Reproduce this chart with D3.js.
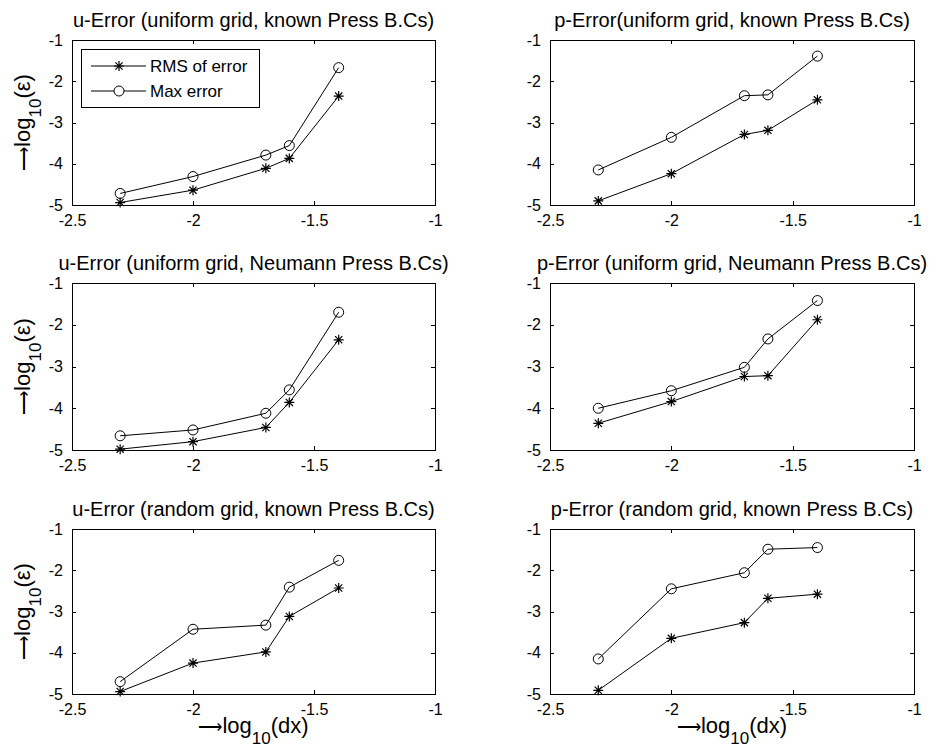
<!DOCTYPE html>
<html><head><meta charset="utf-8">
<script src="https://cdn.jsdelivr.net/npm/d3@7"></script>
<style>
body{margin:0;background:#fff}
svg{display:block}
text{font-family:"Liberation Sans", Arial, Helvetica, sans-serif;fill:#000}
</style>
</head><body>
<svg id="c" width="938" height="753"></svg>
<script>
// log10(dx) for dx = 1/200, 1/100, 1/50, 1/40, 1/25
const xValues = [-2.301, -2.0, -1.699, -1.602, -1.398];

const panelTitles = [
  "u-Error (uniform grid, known Press B.Cs)",
  "p-Error(uniform grid, known Press B.Cs)",
  "u-Error (uniform grid, Neumann Press B.Cs)",
  "p-Error (uniform grid, Neumann Press B.Cs)",
  "u-Error (random grid, known Press B.Cs)",
  "p-Error (random grid, known Press B.Cs)"
];

// RMS of error (log10)
const rmsUUniformKnown   = [-4.94, -4.64, -4.11, -3.87, -2.36];
const rmsPUniformKnown   = [-4.90, -4.24, -3.29, -3.19, -2.45];
const rmsUUniformNeumann = [-4.98, -4.80, -4.46, -3.86, -2.36];
const rmsPUniformNeumann = [-4.36, -3.84, -3.24, -3.22, -1.88];
const rmsURandomKnown    = [-4.94, -4.25, -3.98, -3.12, -2.43];
const rmsPRandomKnown    = [-4.91, -3.65, -3.27, -2.68, -2.58];

// Max error (log10)
const maxUUniformKnown   = [-4.72, -4.31, -3.79, -3.56, -1.67];
const maxPUniformKnown   = [-4.15, -3.36, -2.35, -2.33, -1.39];
const maxUUniformNeumann = [-4.66, -4.52, -4.12, -3.56, -1.70];
const maxPUniformNeumann = [-4.00, -3.58, -3.02, -2.34, -1.42];
const maxURandomKnown    = [-4.70, -3.43, -3.33, -2.41, -1.76];
const maxPRandomKnown    = [-4.15, -2.45, -2.06, -1.49, -1.45];

const rmsSeries = [rmsUUniformKnown, rmsPUniformKnown, rmsUUniformNeumann, rmsPUniformNeumann, rmsURandomKnown, rmsPRandomKnown];
const maxSeries = [maxUUniformKnown, maxPUniformKnown, maxUUniformNeumann, maxPUniformNeumann, maxURandomKnown, maxPRandomKnown];

const xTicks = [-2.5, -2, -1.5, -1];
const yTicks = [-5, -4, -3, -2, -1];
const legendLabels = ["RMS of error", "Max error"];

const svg = d3.select("#c");
const colX = [[72, 435], [550, 914]];
const rowY = [[40, 205], [283, 450], [529, 694]];
const tickFont = 16;
const fmt = d => String(d).replace("\u2212", "-");

function starPath(s) {
  const a = s, b = s * 0.72;
  return `M${-a},0L${a},0M0,${-a}L0,${a}M${-b},${-b}L${b},${b}M${-b},${b}L${b},${-b}`;
}

function axisLabel(t, word, sub, tail) {
  t.append("tspan").attr("font-family", '"DejaVu Sans", sans-serif').attr("font-size", 17).attr("font-weight", 300).text("\u27f6");
  t.append("tspan").text(word);
  t.append("tspan").attr("font-size", 17).attr("dy", 11).text(sub);
  t.append("tspan").attr("dy", -11).text(tail);
}

for (let i = 0; i < 6; i++) {
  const col = i % 2, row = Math.floor(i / 2);
  const [x0, x1] = colX[col];
  const [y0, y1] = rowY[row];
  const x = d3.scaleLinear().domain([-2.5, -1]).range([x0, x1]);
  const y = d3.scaleLinear().domain([-5, -1]).range([y1, y0]);
  const g = svg.append("g");

  g.append("g").attr("transform", `translate(0,${y1})`)
    .call(d3.axisBottom(x).tickValues(xTicks).tickFormat(fmt).tickSizeInner(-4).tickSizeOuter(0).tickPadding(9.5));
  g.append("g").attr("transform", `translate(0,${y0})`)
    .call(d3.axisTop(x).tickValues(xTicks).tickFormat("").tickSizeInner(-4).tickSizeOuter(0));
  g.append("g").attr("transform", `translate(${x0},0)`)
    .call(d3.axisLeft(y).tickValues(yTicks).tickFormat(fmt).tickSizeInner(-4).tickSizeOuter(0).tickPadding(9));
  g.append("g").attr("transform", `translate(${x1},0)`)
    .call(d3.axisRight(y).tickValues(yTicks).tickFormat("").tickSizeInner(-4).tickSizeOuter(0));

  g.selectAll(".domain").remove();
  g.selectAll(".tick line").attr("stroke", "#000").attr("shape-rendering", "crispEdges");
  g.selectAll(".tick text").attr("font-size", tickFont).attr("font-family", '"Liberation Sans", Arial, sans-serif').attr("fill", "#000");

  g.append("rect").attr("x", x0).attr("y", y0).attr("width", x1 - x0).attr("height", y1 - y0)
    .attr("fill", "none").attr("stroke", "#000").attr("shape-rendering", "crispEdges");

  g.append("text").attr("x", (x0 + x1) / 2).attr("y", y0 - 13)
    .attr("text-anchor", "middle").attr("font-size", 20).text(panelTitles[i]);

  const line = d3.line().x((d, k) => x(xValues[k])).y(d => y(d));
  g.append("path").datum(maxSeries[i]).attr("d", line).attr("fill", "none").attr("stroke", "#000").attr("stroke-width", 1);
  g.selectAll(".mx").data(maxSeries[i]).join("circle")
    .attr("cx", (d, k) => x(xValues[k])).attr("cy", d => y(d)).attr("r", 5)
    .attr("fill", "none").attr("stroke", "#000").attr("stroke-width", 1);
  g.append("path").datum(rmsSeries[i]).attr("d", line).attr("fill", "none").attr("stroke", "#000").attr("stroke-width", 1);
  g.selectAll(".rm").data(rmsSeries[i]).join("path")
    .attr("transform", (d, k) => `translate(${x(xValues[k])},${y(d)})`)
    .attr("d", starPath(5)).attr("fill", "none").attr("stroke", "#000").attr("stroke-width", 1.2);

  if (col === 0) {
    const t = g.append("text").attr("transform", `translate(${x0 - 42},${(y0 + y1) / 2}) rotate(-90)`)
      .attr("text-anchor", "middle").attr("font-size", 22);
    axisLabel(t, "log", "10", "(\u03b5)");
  }
  if (row === 2) {
    const t = g.append("text").attr("x", (x0 + x1) / 2).attr("y", y1 + 39)
      .attr("text-anchor", "middle").attr("font-size", 22);
    axisLabel(t, "log", "10", "(dx)");
  }

  if (i === 0) {
    const lg = g.append("g");
    lg.append("rect").attr("x", 81).attr("y", 49).attr("width", 178).attr("height", 58)
      .attr("fill", "#fff").attr("stroke", "#000").attr("shape-rendering", "crispEdges");
    const rows = [66, 91];
    legendLabels.forEach((lab, k) => {
      lg.append("line").attr("x1", 91).attr("x2", 146).attr("y1", rows[k]).attr("y2", rows[k]).attr("stroke", "#000");
      if (k === 0) {
        lg.append("path").attr("transform", `translate(119,${rows[k]})`).attr("d", starPath(5)).attr("fill", "none").attr("stroke", "#000").attr("stroke-width", 1.2);
      } else {
        lg.append("circle").attr("cx", 119).attr("cy", rows[k]).attr("r", 5).attr("fill", "#fff").attr("stroke", "#000");
      }
      lg.append("text").attr("x", 150).attr("y", rows[k]).attr("dy", "0.35em").attr("font-size", 17).text(lab);
    });
  }
}
</script>
</body></html>
